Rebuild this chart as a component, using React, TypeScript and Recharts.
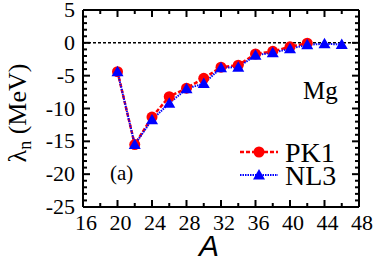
import React from 'react';
import { LineChart, Line, XAxis, YAxis, ReferenceLine } from 'recharts';

// mass numbers and neutron Fermi energies (MeV)
const massNumbers = [20, 22, 24, 26, 28, 30, 32, 34, 36, 38, 40, 42, 44, 46];
const pk1Values = [-4.4, -15.5, -11.3, -8.2, -6.9, -5.4, -3.7, -3.4, -1.7, -1.3, -0.6, -0.05, null, null];
const nl3Values = [-4.4, -15.5, -11.7, -9.2, -7.0, -6.2, -3.8, -3.7, -1.9, -1.5, -0.9, -0.3, -0.15, -0.25];

const xTicks = [16, 18, 20, 22, 24, 26, 28, 30, 32, 34, 36, 38, 40, 42, 44, 46, 48];
const yTicks = Array.from({ length: 31 }, (_, i) => -25 + i);

const data = massNumbers.map((a, i) => ({ A: a, PK1: pk1Values[i], NL3: nl3Values[i] }));

// chart box
const W = 374;
const H = 264;
const M = { top: 10, right: 15, left: 0, bottom: 0 };
const Y_AXIS_W = 83;
const X_AXIS_H = 57;
const PLOT_W = W - M.right - Y_AXIS_W;
const PLOT_H = H - M.top - X_AXIS_H;

const serif = { fontFamily: '"Liberation Serif"' };

// inward ticks on both sides of the frame, long ones on majors
const xTick = (props: any) => {
  const { x, y, payload } = props;
  const v = payload.value;
  const major = v % 4 === 0;
  const len = major ? 7 : 4;
  return (
    <g key={`x-${v}`}>
      <line x1={x} y1={y} x2={x} y2={y - len} stroke="#000" strokeWidth={2} />
      <line x1={x} y1={y - PLOT_H} x2={x} y2={y - PLOT_H + len} stroke="#000" strokeWidth={2} />
      {major && (
        <text x={x + 3} y={y + 23} textAnchor="middle" style={serif} fontSize={22} fill="#000">{v}</text>
      )}
    </g>
  );
};

const yTick = (props: any) => {
  const { x, y, payload } = props;
  const v = payload.value;
  const major = v % 5 === 0;
  const len = major ? 7 : 4;
  return (
    <g key={`y-${v}`}>
      <line x1={x} y1={y} x2={x + len} y2={y} stroke="#000" strokeWidth={2} />
      <line x1={x + PLOT_W} y1={y} x2={x + PLOT_W - len} y2={y} stroke="#000" strokeWidth={2} />
      {major && (
        <text x={x - 8} y={y + 7} textAnchor="end" style={serif} fontSize={22} fill="#000">{v}</text>
      )}
    </g>
  );
};

const Triangle = (props: any) => {
  const { cx, cy, index } = props;
  if (cx == null || cy == null) return <g key={`t-${index}`} />;
  const s = 6;
  return (
    <polygon
      key={`t-${index}`}
      points={`${cx},${cy - s} ${cx - s},${cy + s * 0.75} ${cx + s},${cy + s * 0.75}`}
      fill="#0000ff"
    />
  );
};

export default function App() {
  return (
    <div style={{ position: 'absolute', left: 0, top: 0, width: W, height: H, background: '#fff', fontFamily: '"Liberation Serif"' }}>
      <LineChart width={W} height={H} data={data} margin={M}>
        <XAxis
          dataKey="A"
          type="number"
          domain={[16, 48]}
          ticks={xTicks}
          interval={0}
          height={X_AXIS_H}
          tickSize={0}
          tickMargin={0}
          tickLine={false}
          axisLine={false}
          tick={xTick}
        />
        <YAxis
          type="number"
          domain={[-25, 5]}
          ticks={yTicks}
          interval={0}
          width={Y_AXIS_W}
          tickSize={0}
          tickMargin={0}
          tickLine={false}
          axisLine={false}
          tick={yTick}
        />
        {/* frame */}
        <ReferenceLine x={16} stroke="#000" strokeWidth={2} />
        <ReferenceLine x={48} stroke="#000" strokeWidth={2} />
        <ReferenceLine y={5} stroke="#000" strokeWidth={2} />
        <ReferenceLine y={-25} stroke="#000" strokeWidth={2} />
        <ReferenceLine y={0} stroke="#000" strokeWidth={1.5} strokeDasharray="3 2" />
        <Line
          dataKey="PK1"
          stroke="#ff0000"
          strokeWidth={2.5}
          strokeDasharray="4 2"
          dot={{ r: 5.5, fill: '#ff0000', stroke: 'none' }}
          connectNulls={false}
          isAnimationActive={false}
        />
        <Line
          dataKey="NL3"
          stroke="#0000ff"
          strokeWidth={2}
          strokeDasharray="1.5 1"
          dot={Triangle}
          isAnimationActive={false}
        />
      </LineChart>

      {/* annotations and legend */}
      <svg width={W} height={H} style={{ position: 'absolute', left: 0, top: 0, pointerEvents: 'none' }}>
        <text
          transform="translate(26,113) rotate(-90)"
          textAnchor="middle"
          style={serif}
          fontSize={26}
          fill="#000"
        >
          λ<tspan fontSize={18} dy={5}>n</tspan>
          <tspan dy={-5}> (MeV)</tspan>
        </text>
        <text x={209} y={256} textAnchor="middle" style={{ fontFamily: '"Liberation Sans"' }} fontStyle="italic" fontSize={30} fill="#000">
          A
        </text>
        <text x={303} y={99} style={serif} fontSize={25} fill="#000">Mg</text>
        <text x={110} y={180} style={serif} fontSize={21} fill="#000">(a)</text>

        <line x1={240} y1={152} x2={278} y2={152} stroke="#ff0000" strokeWidth={2.5} strokeDasharray="4 2" />
        <circle cx={259} cy={152} r={5.5} fill="#ff0000" />
        <text x={285} y={162} style={serif} fontSize={28} fill="#000">PK1</text>

        <line x1={240} y1={175} x2={278} y2={175} stroke="#0000ff" strokeWidth={2} strokeDasharray="1.5 1" />
        <polygon points="259,169 253,179.5 265,179.5" fill="#0000ff" />
        <text x={285} y={185} style={serif} fontSize={28} fill="#000">NL3</text>
      </svg>
    </div>
  );
}
